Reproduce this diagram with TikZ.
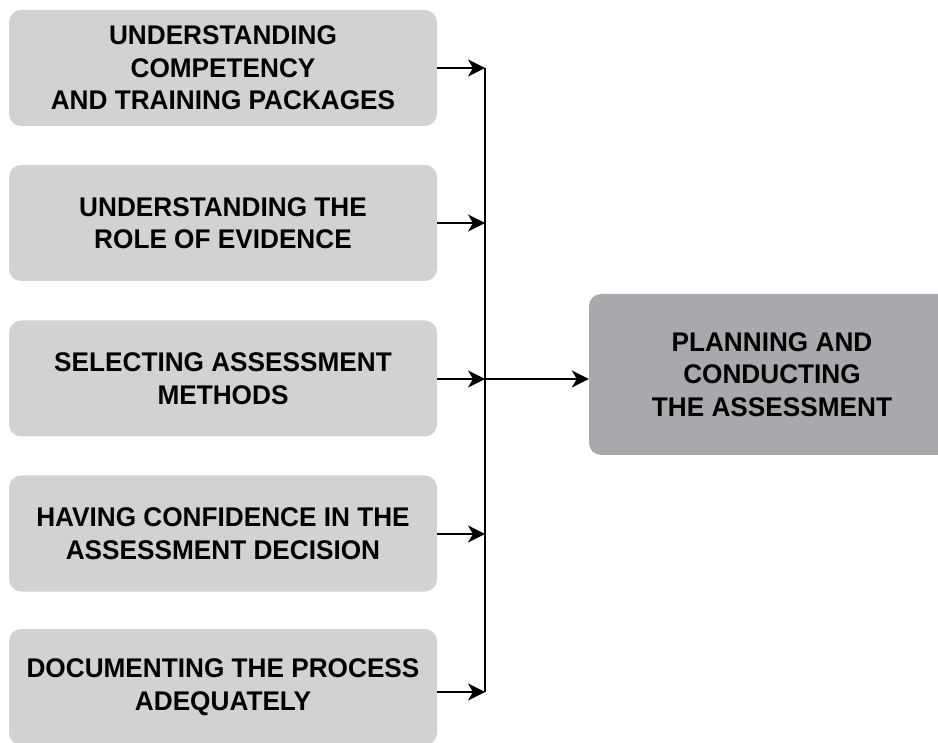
\documentclass[tikz,border=0pt]{standalone}
\usepackage{fontspec}
\setmainfont{Liberation Sans}[FakeStretch=0.97]
\usetikzlibrary{positioning,arrows.meta}
\definecolor{lightbox}{HTML}{D1D2D4}
\definecolor{darkbox}{HTML}{A7A9AC}

\begin{document}
\begin{tikzpicture}[x=1pt, y=-1pt,
        stage/.style={rectangle, rounded corners=12pt, fill=lightbox, minimum width=428pt,
            minimum height=116pt, inner sep=0pt, align=center,
            font=\fontsize{27}{32.5}\selectfont\bfseries},
        goal/.style={stage, fill=darkbox, minimum width=366pt, minimum height=161pt},
        arrow/.style={-{Stealth[length=17pt, width=17pt, inset=5pt]}, line width=1.5pt}
    ]
        \useasboundingbox (0,0) rectangle (938,743);
        \node[stage] (s1) at (223,68) {UNDERSTANDING\\COMPETENCY\\AND TRAINING PACKAGES};
        \node[stage] (s2) at (223,223) {UNDERSTANDING THE\\ROLE OF EVIDENCE};
        \node[stage] (s3) at (223,378.5) {SELECTING ASSESSMENT\\METHODS};
        \node[stage] (s4) at (223,533.5) {HAVING CONFIDENCE IN THE\\ASSESSMENT DECISION};
        \node[stage] (s5) at (223,687) {DOCUMENTING THE PROCESS\\ADEQUATELY};
        \node[goal] (plan) at (772,374.5) {PLANNING AND\\CONDUCTING\\THE ASSESSMENT};

        \coordinate (j1) at (485,68);
        \coordinate (j2) at (485,223);
        \coordinate (j3) at (485,379);
        \coordinate (j4) at (485,534);
        \coordinate (j5) at (485,692);

        \draw[line width=1.5pt] (j1) -- (j5);
        \draw[arrow] (s1.east |- j1) -- (j1);
        \draw[arrow] (s2.east |- j2) -- (j2);
        \draw[arrow] (s3.east |- j3) -- (j3);
        \draw[arrow] (s4.east |- j4) -- (j4);
        \draw[arrow] (s5.east |- j5) -- (j5);
        \draw[arrow] (j3) -- (plan.west |- j3);
    \end{tikzpicture}
\end{document}
